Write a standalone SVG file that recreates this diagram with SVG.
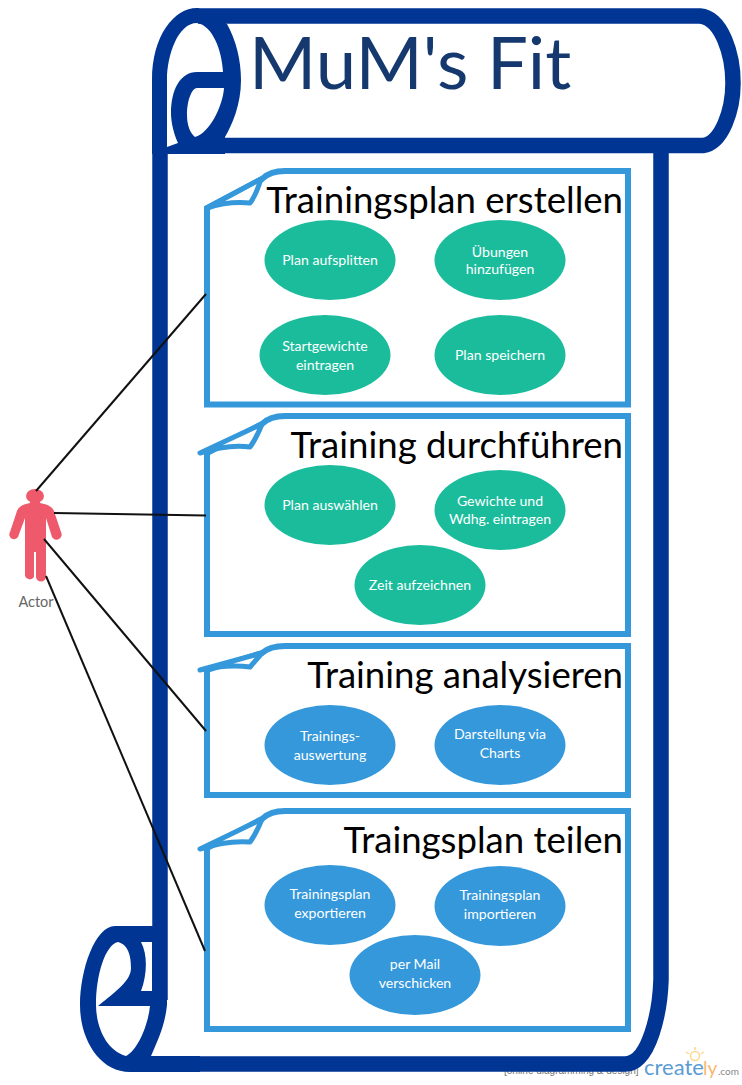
<svg xmlns="http://www.w3.org/2000/svg" width="742" height="1085" viewBox="0 0 742 1085">
<style>
text{font-family:Lato,"Liberation Sans",sans-serif}
.scroll{fill:none;stroke:#003594;stroke-width:15.5;stroke-linejoin:round}
.roll{fill:#003594;fill-rule:evenodd}
.box{fill:#fff;stroke:#3498db;stroke-width:6;stroke-linejoin:miter}
.fold{fill:#fff;stroke:#3498db;stroke-width:5;stroke-linejoin:round}
.title{font-size:36.6px;fill:#000;text-anchor:end}
.lbl{font-size:14.1px;fill:#fff;text-anchor:middle}
.g{fill:#1abc9c}.b{fill:#3498db}
.c{fill:none;stroke:#111;stroke-width:2}
</style>
<rect width="742" height="1085" fill="#fff"/>
<g id="watermark">
<text x="504" y="1074" font-size="10" fill="#777" style="font-family:'Liberation Sans',sans-serif">[online diagramming &amp; design]</text>
<text x="644" y="1075" font-size="22" fill="#5b9bd5">create</text>
<text x="703" y="1075" font-size="19" fill="#f9b872">ly</text>
<text x="718" y="1075" font-size="10" fill="#888">.com</text>
<circle cx="695" cy="1056" r="4.500" fill="none" stroke="#fbd78e" stroke-width="1.500"/>
<path d="M695 1047v3M686 1052l3 2M704 1052l-3 2" stroke="#fbd78e" stroke-width="1.500" fill="none"/>
</g>
<g id="scroll">
<path class="scroll" d="M198 16H700C722 18 733 55 733 83C733 110 722 143 703 145.500H210"/>
<path class="scroll" d="M661 146V980C660 1010 650 1064 625 1064H130"/>
<path class="scroll" d="M160 150V1000"/>
<path class="roll" d="M152 154V80C152 35 175 7 198 8L227 24C236 40 241 60 241 80C241 105 232 125 225 137V154Z
M197 23C178 23 167 55 167 80V147L178 143C172 130 171 118 171 113C171 90 180 72 197 72H223C222 50 212 25 197 23Z
M197 88C192 88 187 100 187 115C187 125 190 133 195 137C210 133 223 105 224 88Z"/>
<path class="roll" d="M167 926H115C95 926 80 970 80 1005C80 1040 100 1072 130 1072H200V1056H151C158 1040 165 1025 167 1005Z
M118 942C130 945 131 960 131 968C131 980 118 990 98 1006H150C148 1025 138 1050 126 1056C105 1050 96 1025 96 1005C96 975 105 945 118 942Z
M141 942H152V991H141C147 975 148 955 141 942Z"/>
</g>
<g id="pkg-1">
<path class="box" d="M207 404.500V208L262 179Q270 171 285 171H628V404.500Z"/>
<path class="fold" d="M207 208Q228 201 250 203Q256 195 261 179Z"/>
<text class="title" x="623" y="213">Trainingsplan erstellen</text>
</g>
<g id="pkg-2">
<path class="box" d="M207 634V453L262 424Q270 416 285 416H628V634Z"/>
<path class="fold" d="M200 453Q228 444 250 447Q256 439 262 424Z"/>
<text class="title" x="623" y="458">Training durchführen</text>
</g>
<g id="pkg-3">
<path class="box" d="M207 795V670L262 653Q270 646 285 646H628V795Z"/>
<path class="fold" d="M200 670Q228 664 250 667Q256 660 262 653Z"/>
<text class="title" x="623" y="688">Training analysieren</text>
</g>
<g id="pkg-4">
<path class="box" d="M207 1029V848L262 819Q270 811 285 811H628V1029Z"/>
<path class="fold" d="M200 849Q228 840 250 842Q256 834 262 819Z"/>
<text class="title" x="623" y="853">Traingsplan teilen</text>
</g>
<g id="title"><text x="249" y="89" font-size="72.500" fill="#15396f">MuM's Fit</text></g>
<g id="n1"><ellipse class="g" cx="330" cy="260" rx="65.500" ry="40"/><text class="lbl" x="330" y="265">Plan aufsplitten</text></g>
<g id="n2"><ellipse class="g" cx="500" cy="260" rx="65.500" ry="40"/><text class="lbl" x="500" y="257">Übungen</text><text class="lbl" x="500" y="274">hinzufügen</text></g>
<g id="n3"><ellipse class="g" cx="325" cy="355" rx="65.500" ry="40"/><text class="lbl" x="325" y="351">Startgewichte</text><text class="lbl" x="325" y="370">eintragen</text></g>
<g id="n4"><ellipse class="g" cx="500" cy="355" rx="65.500" ry="40"/><text class="lbl" x="500" y="360">Plan speichern</text></g>
<g id="n5"><ellipse class="g" cx="330" cy="505" rx="65.500" ry="40"/><text class="lbl" x="330" y="510">Plan auswählen</text></g>
<g id="n6"><ellipse class="g" cx="500" cy="510" rx="65.500" ry="40"/><text class="lbl" x="500" y="506">Gewichte und</text><text class="lbl" x="500" y="524">Wdhg. eintragen</text></g>
<g id="n7"><ellipse class="g" cx="420" cy="585" rx="65.500" ry="40"/><text class="lbl" x="420" y="590">Zeit aufzeichnen</text></g>
<g id="n8"><ellipse class="b" cx="330" cy="745" rx="65.500" ry="40"/><text class="lbl" x="330" y="741">Trainings-</text><text class="lbl" x="330" y="760">auswertung</text></g>
<g id="n9"><ellipse class="b" cx="500" cy="745" rx="65.500" ry="40"/><text class="lbl" x="500" y="739">Darstellung via</text><text class="lbl" x="500" y="758">Charts</text></g>
<g id="n10"><ellipse class="b" cx="330" cy="905" rx="65.500" ry="40"/><text class="lbl" x="330" y="899">Trainingsplan</text><text class="lbl" x="330" y="918">exportieren</text></g>
<g id="n11"><ellipse class="b" cx="500" cy="906" rx="65.500" ry="40"/><text class="lbl" x="500" y="900">Trainingsplan</text><text class="lbl" x="500" y="919">importieren</text></g>
<g id="n12"><ellipse class="b" cx="415" cy="975" rx="65.500" ry="40"/><text class="lbl" x="415" y="969">per Mail</text><text class="lbl" x="415" y="988">verschicken</text></g>
<g id="actor">
<ellipse cx="35" cy="496" rx="9" ry="7" fill="#ee5a6b"/>
<path fill="#ee5a6b" d="M30 501H40V503C46 504 52 506 54 511L61 532A4.500 4.500 0 0 1 52 537L46 518V576A5 5 0 0 1 36 577V552H34V577A5 5 0 0 1 25 576V518L18 537A4.500 4.500 0 0 1 10 532L17 511C19 506 24 504 30 503Z"/>
<text x="36" y="607" font-size="14.500" fill="#666" text-anchor="middle">Actor</text>
</g>
<g id="connectors">
<path class="c" d="M36 491L206 294"/>
<path class="c" d="M54 513L206 515.500"/>
<path class="c" d="M44 539L206 731"/>
<path class="c" d="M46 576L205 951"/>
</g>
</svg>
